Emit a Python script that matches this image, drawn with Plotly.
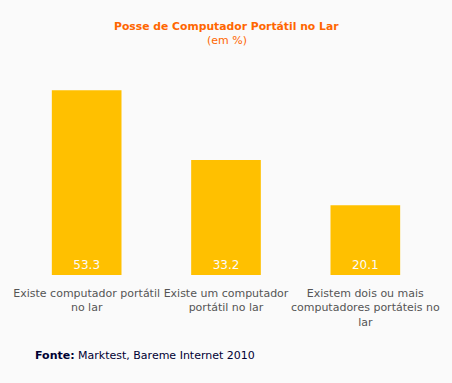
import plotly.graph_objects as go

categories = ["Existe computador portátil<br>no lar",
              "Existe um computador<br>portátil no lar",
              "Existem dois ou mais<br>computadores portáteis no<br>lar"]
values = [53.3, 33.2, 20.1]
value_labels = ["53.3", "33.2", "20.1"]

W, H = 452, 383
L, R, T, B = 17, 15, 67, 108
pw, ph = W - L - R, H - T - B

fig = go.Figure(go.Bar(
    x=categories, y=values, text=value_labels,
    textposition="inside", insidetextanchor="start",
    textfont=dict(family="DejaVu Sans", size=12, color="#fafafa"),
    marker=dict(color="#ffc000", line=dict(width=0)),
    width=0.5, hoverinfo="skip",
))

fig.update_layout(
    width=W, height=H,
    margin=dict(l=L, r=R, t=T, b=B),
    paper_bgcolor="#fafafa", plot_bgcolor="#fafafa",
    showlegend=False,
    font=dict(family="DejaVu Sans", size=11, color="#555555"),
    xaxis=dict(showgrid=False, showline=False, zeroline=False, ticks="",
               tickfont=dict(size=11, color="#555555"), ticklabelstandoff=10),
    yaxis=dict(range=[0, 60], visible=False),
    annotations=[
        dict(text="<b>Posse de Computador Portátil no Lar</b>", x=(228 - L) / pw, y=(H - B - 26) / ph,
             xref="paper", yref="paper", xanchor="center", yanchor="middle", showarrow=False,
             font=dict(family="DejaVu Sans", size=10.8, color="#ff6600")),
        dict(text="(em %)", x=(228 - L) / pw, y=(H - B - 40) / ph, xref="paper", yref="paper",
             xanchor="center", yanchor="middle", showarrow=False,
             font=dict(size=11, color="#ff6600")),
        dict(text="<b>Fonte:</b> Marktest, Bareme Internet 2010", x=(33 - L) / pw,
             y=(H - B - 355) / ph, xref="paper", yref="paper", showarrow=False,
             xanchor="left", yanchor="middle",
             font=dict(size=11, color="#000033")),
    ],
)

fig.write_html("out.html", config={"displayModeBar": False})
with open("out.html", encoding="utf-8") as f:
    html = f.read()
html = html.replace("<body>", '<body style="margin:0;background:#fafafa;">', 1)
with open("out.html", "w", encoding="utf-8") as f:
    f.write(html)
